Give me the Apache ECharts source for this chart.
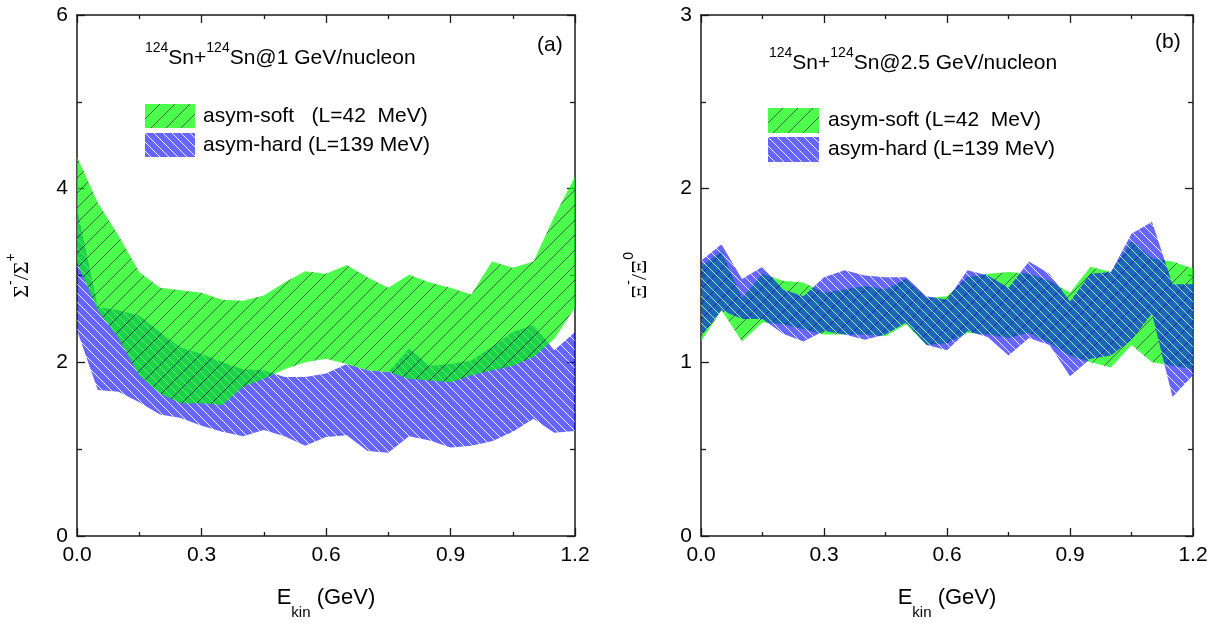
<!DOCTYPE html>
<html>
<head>
<meta charset="utf-8">
<script src="https://cdn.jsdelivr.net/npm/echarts@6/dist/echarts.min.js"></script>
<style>
html,body{margin:0;padding:0;background:#fff;}
#c{width:1230px;height:625px;}
</style>
</head>
<body>
<div id="c"></div>
<script>
// ---- data ----
const energy = [0, 0.05, 0.1, 0.15, 0.2, 0.25, 0.3, 0.35, 0.4, 0.45, 0.5, 0.55, 0.6,
                0.65, 0.7, 0.75, 0.8, 0.85, 0.9, 0.95, 1.0, 1.05, 1.1, 1.15, 1.2];

// panel (a): Sigma-/Sigma+
const softUpperA = [4.37, 3.84, 3.46, 3.04, 2.86, 2.83, 2.80, 2.72, 2.71, 2.77, 2.92, 3.05, 3.02,
                    3.12, 2.98, 2.86, 3.01, 2.92, 2.86, 2.78, 3.16, 3.09, 3.16, 3.68, 4.14];
const softLowerA = [3.15, 2.60, 2.28, 1.85, 1.64, 1.53, 1.53, 1.51, 1.72, 1.81, 1.92, 2.00, 2.04,
                    1.98, 1.91, 1.89, 1.81, 1.79, 1.77, 1.85, 1.91, 1.96, 2.06, 2.27, 2.63];
const hardUpperA = [3.78, 2.64, 2.60, 2.54, 2.35, 2.17, 2.10, 2.00, 1.92, 1.91, 1.83, 1.83, 1.87,
                    1.98, 1.91, 1.89, 2.16, 1.96, 1.98, 2.02, 2.18, 2.35, 2.43, 2.14, 2.35];
const hardLowerA = [2.37, 1.68, 1.66, 1.54, 1.40, 1.36, 1.27, 1.20, 1.15, 1.22, 1.15, 1.04, 1.14,
                    1.16, 0.98, 0.96, 1.15, 1.10, 1.02, 1.04, 1.09, 1.20, 1.35, 1.19, 1.21];

// panel (b): Xi-/Xi0
const softUpperB = [1.55, 1.64, 1.37, 1.51, 1.47, 1.46, 1.40, 1.42, 1.44, 1.42, 1.48, 1.37, 1.38,
                    1.49, 1.51, 1.52, 1.51, 1.47, 1.40, 1.55, 1.52, 1.70, 1.60, 1.58, 1.54];
const softLowerB = [1.12, 1.30, 1.12, 1.23, 1.22, 1.19, 1.16, 1.16, 1.16, 1.15, 1.22, 1.10, 1.11,
                    1.17, 1.16, 1.14, 1.17, 1.11, 1.04, 1.00, 0.97, 1.10, 1.00, 0.98, 0.96];
const hardUpperB = [1.585, 1.68, 1.48, 1.55, 1.42, 1.38, 1.49, 1.53, 1.50, 1.49, 1.49, 1.38, 1.36,
                    1.53, 1.50, 1.43, 1.58, 1.51, 1.35, 1.51, 1.52, 1.74, 1.81, 1.45, 1.45];
const hardLowerB = [1.15, 1.30, 1.25, 1.25, 1.165, 1.12, 1.18, 1.16, 1.13, 1.16, 1.23, 1.10, 1.07,
                    1.18, 1.145, 1.04, 1.14, 1.10, 0.92, 1.02, 1.04, 1.13, 1.28, 0.80, 0.925];

const softNameA = 'asym-soft   (L=42  MeV)';
const softNameB = 'asym-soft (L=42  MeV)';
const hardName = 'asym-hard (L=139 MeV)';

// ---- styles ----
const SANS = 'Liberation Sans';
const SERIF = 'Liberation Serif';

function hatch(fill, line, s, dir, lw) {
  const c = document.createElement('canvas');
  c.width = s; c.height = s;
  const g = c.getContext('2d');
  g.fillStyle = fill; g.fillRect(0, 0, s, s);
  g.strokeStyle = line; g.lineWidth = lw;
  g.beginPath();
  if (dir === '/') {
    g.moveTo(-1, s + 1); g.lineTo(s + 1, -1);
    g.moveTo(-1, 1); g.lineTo(1, -1);
    g.moveTo(s - 1, s + 1); g.lineTo(s + 1, s - 1);
  } else {
    g.moveTo(-1, -1); g.lineTo(s + 1, s + 1);
    g.moveTo(s - 1, -1); g.lineTo(s + 1, 1);
    g.moveTo(-1, s - 1); g.lineTo(1, s + 1);
  }
  g.stroke();
  return { image: c, repeat: 'repeat' };
}
const greenPat = hatch('#00ff00', '#000000', 15, '/', 0.9);
const bluePat = hatch('#0000ff', '#ffffff', 9, '\\', 0.9);
const GREEN_OP = 0.7, BLUE_OP = 0.6;

function band(name, lo, hi, pat, op, gi) {
  return {
    type: 'custom', name: name, xAxisIndex: gi * 2, yAxisIndex: gi * 2,
    itemStyle: { color: pat, opacity: op },
    encode: { x: 0, y: [1, 2] },
    data: energy.map((x, i) => [x, lo[i], hi[i]]),
    renderItem: function (params, api) {
      if (params.dataIndex !== 0) return null;
      const pts = [];
      for (let i = 0; i < energy.length; i++) pts.push(api.coord([energy[i], hi[i]]));
      for (let i = energy.length - 1; i >= 0; i--) pts.push(api.coord([energy[i], lo[i]]));
      return { type: 'polygon', shape: { points: pts }, style: { fill: pat, opacity: op, stroke: null } };
    },
    silent: true
  };
}

function xAx(gi, pos, label) {
  const o = {
    type: 'value', gridIndex: gi, position: pos, min: 0, max: 1.2, interval: 0.3,
    axisLine: { show: true, onZero: false, lineStyle: { color: '#1a1a1a', width: 1.5 } },
    axisTick: { show: true, inside: true, length: 8, lineStyle: { color: '#1a1a1a', width: 1.3 } },
    minorTick: { show: true, splitNumber: 2, length: 4, lineStyle: { color: '#1a1a1a', width: 1.3 } },
    splitLine: { show: false },
    axisLabel: { show: label, margin: 9, fontSize: 21, fontFamily: SANS, color: '#000',
                 formatter: v => v.toFixed(1) }
  };
  if (label) {
    o.name = '{e|E}{k|kin}{e| (GeV)}';
    o.nameLocation = 'middle';
    o.nameGap = 51;
    o.nameTextStyle = {
      fontSize: 22, fontFamily: SANS, color: '#000',
      rich: {
        e: { fontSize: 22, fontFamily: SANS, color: '#000', verticalAlign: 'top' },
        k: { fontSize: 15, fontFamily: SANS, color: '#000', verticalAlign: 'top', padding: [18, 0, 0, 0] }
      }
    };
  }
  return o;
}
function yAx(gi, pos, max, itv, label, nm, gap) {
  const o = {
    type: 'value', gridIndex: gi, position: pos, min: 0, max: max, interval: itv,
    axisLine: { show: true, onZero: false, lineStyle: { color: '#1a1a1a', width: 1.5 } },
    axisTick: { show: true, inside: true, length: 8, lineStyle: { color: '#1a1a1a', width: 1.3 } },
    minorTick: { show: true, splitNumber: 2, length: 5, lineStyle: { color: '#1a1a1a', width: 1.3 } },
    splitLine: { show: false },
    axisLabel: { show: label, margin: 9, fontSize: 21, fontFamily: SANS, color: '#000' }
  };
  if (nm) {
    o.name = nm;
    o.nameLocation = 'middle';
    o.nameGap = gap;
    o.nameTextStyle = {
      fontSize: 22, fontFamily: SERIF, color: '#000',
      rich: {
        g: { fontSize: 22, fontFamily: SERIF, color: '#000', verticalAlign: 'bottom', padding: [7, 0, 0, 0] },
        p: { fontSize: 14, fontFamily: SANS, color: '#000', verticalAlign: 'top' }
      }
    };
  }
  return o;
}

const headRich = {
  n: { fontSize: 21, fontWeight: 'normal', fontFamily: SANS, color: '#000', verticalAlign: 'bottom', padding: [7, 0, 0, 0] },
  s: { fontSize: 14, fontWeight: 'normal', fontFamily: SANS, color: '#000', verticalAlign: 'top' }
};

const option = {
  backgroundColor: '#fff',
  animation: false,
  grid: [
    { left: 77, top: 15, width: 498, height: 523 },
    { left: 701, top: 15, width: 492, height: 523 }
  ],
  xAxis: [xAx(0, 'bottom', true), xAx(0, 'top', false), xAx(1, 'bottom', true), xAx(1, 'top', false)],
  yAxis: [
    yAx(0, 'left', 6, 2, true, '{g|Σ}{p|-}{g|/Σ}{p|+}', 44),
    yAx(0, 'right', 6, 2, false),
    yAx(1, 'left', 3, 1, true, '{g|Ξ}{p|-}{g|/Ξ}{p|0}', 50),
    yAx(1, 'right', 3, 1, false)
  ],
  title: [
    { text: '{s|124}{n|Sn+}{s|124}{n|Sn@1 GeV/nucleon}', left: 145, top: 41, padding: 0,
      textStyle: { fontWeight: 'normal', rich: headRich } },
    { text: '(a)', left: 537, top: 35, padding: 0,
      textStyle: { fontSize: 21, fontWeight: 'normal', fontFamily: SANS, color: '#000' } },
    { text: '{s|124}{n|Sn+}{s|124}{n|Sn@2.5 GeV/nucleon}', left: 769, top: 46, padding: 0,
      textStyle: { fontWeight: 'normal', rich: headRich } },
    { text: '(b)', left: 1155, top: 32, padding: 0,
      textStyle: { fontSize: 21, fontWeight: 'normal', fontFamily: SANS, color: '#000' } }
  ],
  legend: [
    { left: 145, top: 104, orient: 'vertical', itemWidth: 50, itemHeight: 24, itemGap: 5, padding: 0,
      icon: 'rect', selectedMode: false,
      textStyle: { fontSize: 21, fontFamily: SANS, color: '#000', padding: [0, 0, 0, 3] },
      data: [
        { name: softNameA, itemStyle: { color: greenPat, opacity: GREEN_OP } },
        { name: hardName, itemStyle: { color: bluePat, opacity: BLUE_OP } }
      ] },
    { left: 768, top: 108, orient: 'vertical', itemWidth: 51, itemHeight: 25, itemGap: 4, padding: 0,
      icon: 'rect', selectedMode: false,
      textStyle: { fontSize: 21, fontFamily: SANS, color: '#000', padding: [0, 0, 0, 4] },
      data: [
        { name: softNameB, itemStyle: { color: greenPat, opacity: GREEN_OP } },
        { name: hardName, itemStyle: { color: bluePat, opacity: BLUE_OP } }
      ] }
  ],
  series: [
    band(hardName, hardLowerA, hardUpperA, bluePat, BLUE_OP, 0),
    band(softNameA, softLowerA, softUpperA, greenPat, GREEN_OP, 0),
    band(softNameB, softLowerB, softUpperB, greenPat, GREEN_OP, 1),
    band(hardName, hardLowerB, hardUpperB, bluePat, BLUE_OP, 1)
  ]
};

const chart = echarts.init(document.getElementById('c'), null, { renderer: 'canvas' });
chart.setOption(option);
</script>
</body>
</html>
